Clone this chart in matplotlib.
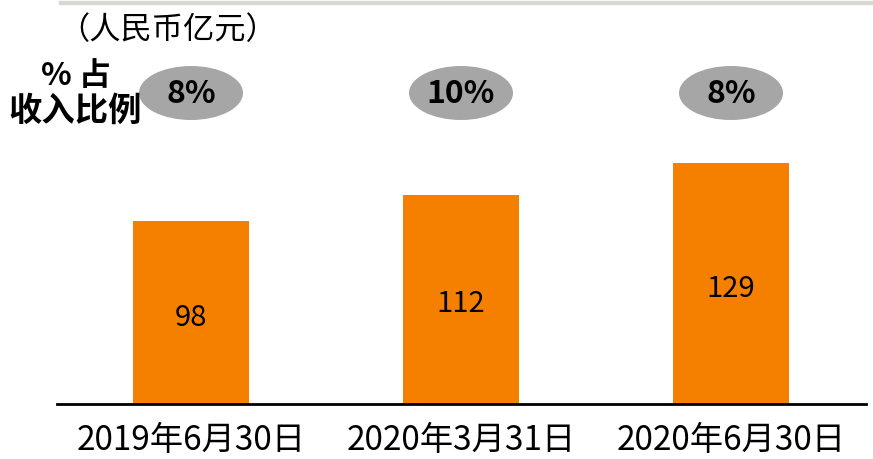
import matplotlib
matplotlib.use("Agg")
import matplotlib.pyplot as plt
from matplotlib.patches import Ellipse
from matplotlib.lines import Line2D

plt.rcParams['font.family'] = ['Noto Sans CJK SC', 'DejaVu Sans']

categories = ["2019年6月30日", "2020年3月31日", "2020年6月30日"]
values = [98, 112, 129]
shares = ["8%", "10%", "8%"]
unit_label = "（人民币亿元）"
share_label_top = "% 占"
share_label_bottom = "收入比例"

W, H = 873, 460
fig = plt.figure(figsize=(W / 100, H / 100), dpi=100)

ax_left, ax_right, ax_base = 57, 866, 405
ax = fig.add_axes([ax_left / W, (H - ax_base) / H, (ax_right - ax_left) / W, ax_base / H])
px_per_unit = 1.867
spacing = 270.0
first_center = 134.0
ax.set_xlim(-first_center / spacing, (ax_right - ax_left - first_center) / spacing)
ax.set_ylim(0, ax_base / px_per_unit)

x = list(range(len(categories)))
bar_color = "#f58000"
ax.bar(x, values, width=116 / spacing, color=bar_color, zorder=2)

label_drop = 4 / px_per_unit
for xi, v in zip(x, values):
    ax.text(xi, v / 2 - label_drop, str(v), ha="center", va="center", fontsize=21, color="black")

# percentage ellipses
ell_y = (ax_base - 94) / px_per_unit
for xi, s in zip(x, shares):
    e = Ellipse((xi, ell_y), width=104 / spacing, height=54 / px_per_unit,
                facecolor="#a6a6a6", edgecolor="none", clip_on=False, zorder=3)
    ax.add_patch(e)
    ax.text(xi, ell_y, s, ha="center", va="center", fontsize=23, fontweight="bold",
            color="black", zorder=4, clip_on=False)

for sp in ["top", "right", "left"]:
    ax.spines[sp].set_visible(False)
ax.spines["bottom"].set_linewidth(2)
ax.spines["bottom"].set_color("black")
ax.set_yticks([])
ax.set_xticks(x)
ax.set_xticklabels(categories, fontsize=24)
ax.tick_params(axis="x", length=0, pad=13)

# top gray rule
fig.add_artist(Line2D([61 / W, 1.0], [1 - 4 / H, 1 - 4 / H], color="#dad7d1", linewidth=3.2,
                      transform=fig.transFigure))

fig.text(168 / W, 1 - 30 / H, unit_label, ha="center", va="center", fontsize=22.5)
fig.text(76 / W, 1 - 76 / H, share_label_top, ha="center", va="center", fontsize=23, fontweight="bold")
fig.text(75 / W, 1 - 111 / H, share_label_bottom, ha="center", va="center", fontsize=24, fontweight="bold")

fig.savefig("out.png", dpi=100)
